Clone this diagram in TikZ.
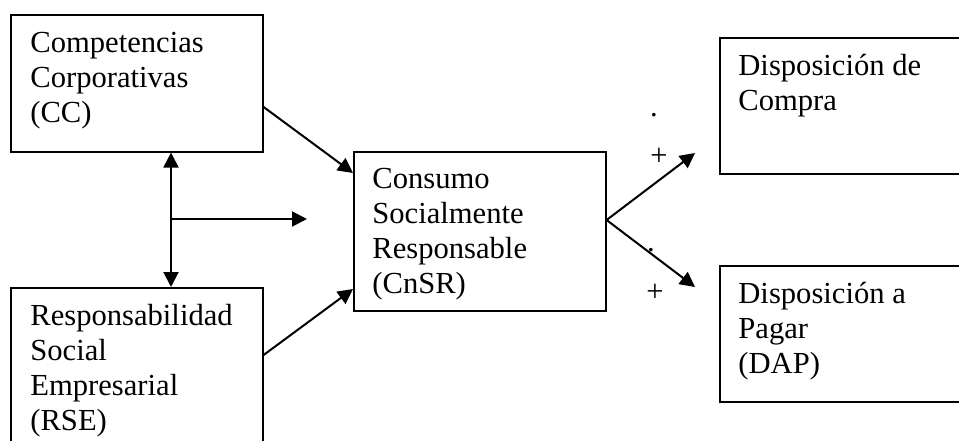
\documentclass[tikz,border=0pt]{standalone}
\usepackage{fontspec}
\setmainfont{Liberation Serif}
\usetikzlibrary{arrows.meta,calc}
\begin{document}
\begin{tikzpicture}[x=0.5pt,y=-0.5pt,
  box/.style={draw,line width=0.8pt,anchor=north west,inner sep=0pt},
  lbl/.style={anchor=north west,inner sep=0pt,align=left,font=\fontsize{15.3}{17.5}\selectfont},
  sym/.style={inner sep=0pt,font=\fontsize{15.3}{17.5}\selectfont},
  arr/.style={line width=1pt,-{Triangle[length=7.5pt,width=7.5pt]}},
  darr/.style={line width=1pt,{Triangle[length=7.5pt,width=7.5pt]}-{Triangle[length=7.5pt,width=7.5pt]}},
]
\useasboundingbox (0,0) rectangle (959,440);
\clip (0,0) rectangle (959,440);
% boxes
\node[box,minimum width=126pt,minimum height=68.5pt] (cc) at (10,14) {};
\node[box,minimum width=126pt,minimum height=84pt] (rse) at (10,287) {};
\node[box,minimum width=126pt,minimum height=79.5pt] (cn) at (353,151) {};
\node[box,minimum width=128pt,minimum height=68pt] (dc) at (719,37) {};
\node[box,minimum width=128pt,minimum height=68pt] (dap) at (719,265) {};
% texts
\node[lbl] (cct) at (30,27.5) {\strut Competencias\\\strut Corporativas\\\strut (CC)};
\node[lbl] (rset) at (30,300.5) {\strut Responsabilidad\\\strut Social\\\strut Empresarial\\\strut (RSE)};
\node[lbl] (cnt) at (372,163.5) {\strut Consumo\\\strut Socialmente\\\strut Responsable\\\strut (CnSR)};
\node[lbl] (dct) at (738,50.5) {\strut Disposición de\\\strut Compra};
\node[lbl] (dapt) at (738,278.5) {\strut Disposición a\\\strut Pagar\\\strut (DAP)};
% coordinates
\coordinate (vx) at (171,219);
\coordinate (hend) at (307,219);
\coordinate (e1) at (695,153);
\coordinate (e2) at (695,287);
% connectors
\draw[arr] ($(cc.north east)+(0,93)$) -- ($(cn.north west)+(0,22)$);
\draw[arr] ($(rse.north east)+(0,68)$) -- ($(cn.north west)+(0,138)$);
\draw[darr] (cc.south -| vx) -- (rse.north -| vx);
\draw[arr] (vx) -- (hend);
\draw[arr] ($(cn.north east)+(0,69)$) -- (e1);
\draw[arr] ($(cn.north east)+(0,69)$) -- (e2);
% labels
\node[sym] (p1) at (659,157) {+};
\node[sym] (p2) at (655,293) {+};
\node[sym,anchor=base] (d1) at (654,116) {.};
\node[sym,anchor=base] (d2) at (651,251) {.};
\end{tikzpicture}
\end{document}
